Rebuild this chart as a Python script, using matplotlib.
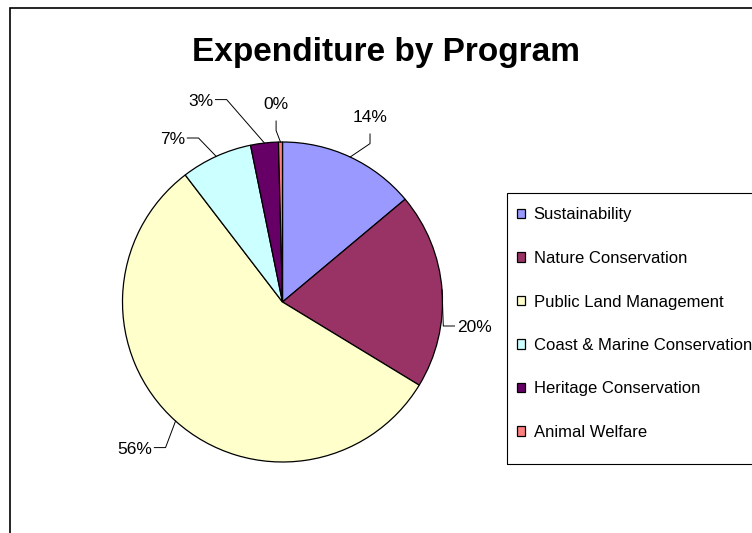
import numpy as np
import matplotlib
matplotlib.use("Agg")
import matplotlib.pyplot as plt
from matplotlib.patches import Rectangle

plt.rcParams['font.family'] = ['Liberation Sans', 'DejaVu Sans']

programs = ['Sustainability', 'Nature Conservation', 'Public Land Management',
            'Coast & Marine Conservation', 'Heritage Conservation', 'Animal Welfare']
share = [13.9, 19.8, 55.9, 7.2, 2.8, 0.4]
colours = ['#9999FF', '#993366', '#FFFFCC', '#CCFFFF', '#660066', '#FF8080']

# where each percentage label sits (pie units) and which side its leader comes in from
label_xy = [(0.547, 1.125), (1.09, -0.15), (-0.816, -0.91),
            (-0.61, 1.025), (-0.434, 1.265), (-0.04, 1.206)]
label_side = ['below', 'left', 'right', 'right', 'right', 'below']

W, H = 752, 533
fig = plt.figure(figsize=(W / 100, H / 100), dpi=100)

# pie axes: centre at (282.5, 302) px, 160 px per unit
L = 1.5
cx, cy, r = 282.5, H - 302, 160
ax = fig.add_axes([(cx - L * r) / W, (cy - L * r) / H, 2 * L * r / W, 2 * L * r / H])

wedges, _ = ax.pie(share, colors=colours, startangle=90, counterclock=False,
                   wedgeprops=dict(edgecolor='black', linewidth=0.9))
ax.set_xlim(-L, L)
ax.set_ylim(-L, L)
ax.axis('off')

total = sum(share)
for w, v, (tx, ty), side in zip(wedges, share, label_xy, label_side):
    mid = np.deg2rad((w.theta1 + w.theta2) / 2)
    ex, ey = np.cos(mid), np.sin(mid)
    txt = '%.0f%%' % (v / total * 100)
    if side == 'below':
        end = (tx, ty - 0.075)
        elbow = (tx, ty - 0.135)
        ax.text(tx, ty, txt, ha='center', va='baseline', fontsize=12.5)
    elif side == 'left':
        end = (tx - 0.015, ty)
        elbow = (tx - 0.085, ty)
        ax.text(tx, ty, txt, ha='left', va='center_baseline', fontsize=12.5)
    else:
        end = (tx + 0.015, ty)
        elbow = (tx + 0.085, ty)
        ax.text(tx, ty, txt, ha='right', va='center_baseline', fontsize=12.5)
    ax.plot([ex, elbow[0], end[0]], [ey, elbow[1], end[1]], color='black', lw=0.7)

fig.text(386 / W, (H - 61) / H, 'Expenditure by Program', ha='center', va='baseline',
         fontsize=24, fontweight='bold')

# legend entries; its box is drawn separately so the padding can be uneven
fig.legend(wedges, programs, loc='upper left', bbox_to_anchor=(507 / W, (H - 197.5) / H),
           frameon=False, fontsize=12,
           labelspacing=1.71, handlelength=0.5, handleheight=0.5, handletextpad=0.5,
           borderpad=0.6, borderaxespad=0)
fig.add_artist(Rectangle((507 / W, (H - 464) / H), 1.0, (464 - 193) / H,
                         transform=fig.transFigure, fill=False, edgecolor='black',
                         linewidth=0.8))

# chart area border running off the right and bottom edges
fig.add_artist(Rectangle((10 / W, -0.1), 1.0, (H - 8) / H + 0.1, transform=fig.transFigure,
                         fill=False, edgecolor='black', linewidth=1.2))

fig.savefig('out.png', dpi=100)
